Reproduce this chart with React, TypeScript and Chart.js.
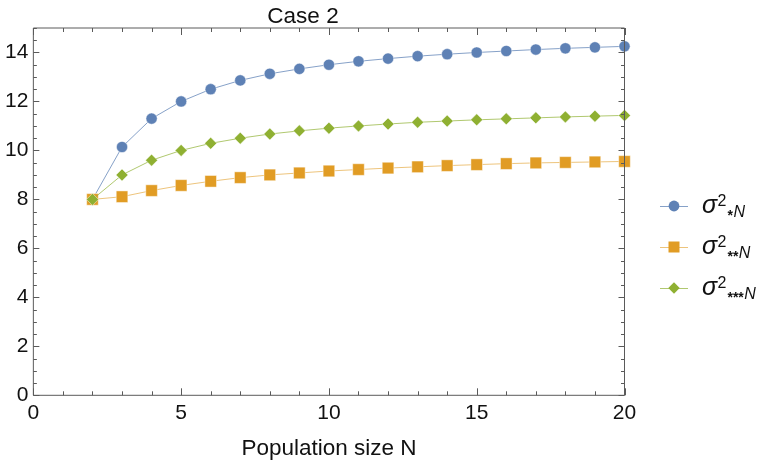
import React, { useEffect, useRef } from "react";
import { Chart, registerables } from "chart.js";

Chart.register(...registerables);

// ---- data ----
const N_VALUES = [2, 3, 4, 5, 6, 7, 8, 9, 10, 11, 12, 13, 14, 15, 16, 17, 18, 19, 20];
const SIGMA_1STAR = [8.0, 10.14, 11.3, 12.0, 12.5, 12.86, 13.13, 13.33, 13.5, 13.64, 13.75, 13.85, 13.93, 14.0, 14.06, 14.12, 14.17, 14.21, 14.25];
const SIGMA_2STAR = [8.0, 8.11, 8.36, 8.57, 8.74, 8.89, 9.0, 9.08, 9.16, 9.22, 9.28, 9.33, 9.38, 9.42, 9.46, 9.49, 9.51, 9.53, 9.55];
const SIGMA_3STAR = [8.0, 9.0, 9.6, 10.0, 10.29, 10.5, 10.67, 10.8, 10.91, 11.0, 11.08, 11.15, 11.2, 11.25, 11.29, 11.33, 11.37, 11.4, 11.43];
const SERIES_STARS = ["*", "**", "***"];
const X_TICKS = [0, 5, 10, 15, 20];
const Y_TICKS = [0, 2, 4, 6, 8, 10, 12, 14];
const X_RANGE = [0, 20];
const Y_RANGE = [0, 15];
const TITLE = "Case 2";
const X_TITLE = "Population size N";

const BLUE = "#5E81B5";
const ORANGE = "#E19C24";
const GREEN = "#8FB032";
const BLUE_LINE = "rgba(94,129,181,0.75)";
const ORANGE_LINE = "rgba(225,156,36,0.6)";
const GREEN_LINE = "rgba(143,176,50,0.7)";
const FRAME = "#5a5a5a";
const TEXT = "#111111";
const FONT = '"Liberation Sans", Arial, sans-serif';

const framePlugin = {
  id: "frameTicks",
  afterDraw(chart: any) {
    const { ctx, chartArea } = chart;
    const xs = chart.scales.x;
    const ys = chart.scales.y;
    const { left, right, top, bottom } = chartArea;
    ctx.save();
    ctx.strokeStyle = FRAME;
    ctx.lineWidth = 1;
    ctx.beginPath();
    ctx.rect(left, top, right - left, bottom - top);
    ctx.stroke();
    ctx.beginPath();
    for (let v = X_RANGE[0]; v <= X_RANGE[1] + 1e-9; v += 1) {
      const major = X_TICKS.includes(v);
      const len = major ? 7 : 4;
      const px = Math.round(xs.getPixelForValue(v)) + 0.5;
      ctx.moveTo(px, bottom);
      ctx.lineTo(px, bottom - len);
      ctx.moveTo(px, top);
      ctx.lineTo(px, top + len);
    }
    for (let v = Y_RANGE[0]; v <= Y_RANGE[1] + 1e-9; v += 0.5) {
      const major = Y_TICKS.includes(v);
      const len = major ? 6 : 3.5;
      const py = Math.round(ys.getPixelForValue(v)) + 0.5;
      ctx.moveTo(left, py);
      ctx.lineTo(left + len, py);
      ctx.moveTo(right, py);
      ctx.lineTo(right - len, py);
    }
    ctx.stroke();

    // title
    ctx.fillStyle = TEXT;
    ctx.font = `22.5px ${FONT}`;
    ctx.textAlign = "center";
    ctx.textBaseline = "alphabetic";
    ctx.fillText(TITLE, 303, 23);

    // legend
    const colors = [BLUE, ORANGE, GREEN];
    const lineColors = [BLUE_LINE, ORANGE_LINE, GREEN_LINE];
    const ys0 = [206, 247, 288];
    for (let i = 0; i < 3; i++) {
      const y = ys0[i];
      ctx.strokeStyle = lineColors[i];
      ctx.lineWidth = 1;
      ctx.beginPath();
      ctx.moveTo(660, y + 0.5);
      ctx.lineTo(688, y + 0.5);
      ctx.stroke();
      ctx.fillStyle = colors[i];
      ctx.beginPath();
      if (i === 0) {
        ctx.arc(674, y, 5.4, 0, Math.PI * 2);
      } else if (i === 1) {
        ctx.rect(674 - 5.5, y - 5.5, 11, 11);
      } else {
        ctx.moveTo(674 - 5.7, y);
        ctx.lineTo(674, y - 5.7);
        ctx.lineTo(674 + 5.7, y);
        ctx.lineTo(674, y + 5.7);
        ctx.closePath();
      }
      ctx.fill();

      ctx.fillStyle = TEXT;
      ctx.textAlign = "left";
      let x = 702;
      ctx.font = `italic 25px ${FONT}`;
      ctx.fillText("σ", x, y + 7);
      x += ctx.measureText("σ").width + 0.5;
      ctx.font = `16px ${FONT}`;
      ctx.fillText("2", x, y);
      x += ctx.measureText("2").width + 1;
      ctx.font = `bold 14px ${FONT}`;
      ctx.fillText(SERIES_STARS[i], x, y + 14);
      x += ctx.measureText(SERIES_STARS[i]).width + 0.5;
      ctx.font = `italic 16px ${FONT}`;
      ctx.fillText("N", x, y + 11);
    }
    ctx.restore();
  },
};

function series(values: number[]) {
  return N_VALUES.map((n, i) => ({ x: n, y: values[i] }));
}

export default function App() {
  const ref = useRef<HTMLCanvasElement>(null);
  useEffect(() => {
    const canvas = ref.current;
    if (!canvas) return;
    const common = {
      borderWidth: 1,
      pointBorderWidth: 1,
      pointBorderColor: "rgba(255,255,255,0.45)",
      clip: false,
      tension: 0,
      fill: false,
    };
    const chart = new Chart(canvas, {
      type: "line",
      data: {
        datasets: [
          {
            ...common,
            label: "σ2*N",
            data: series(SIGMA_1STAR),
            borderColor: BLUE_LINE,
            backgroundColor: BLUE,
            pointBackgroundColor: BLUE,
            pointStyle: "circle",
            pointRadius: 5.6,
            order: 3,
          },
          {
            ...common,
            label: "σ2**N",
            data: series(SIGMA_2STAR),
            borderColor: ORANGE_LINE,
            backgroundColor: ORANGE,
            pointBackgroundColor: ORANGE,
            pointStyle: "rect",
            pointRadius: 8.2,
            order: 2,
          },
          {
            ...common,
            label: "σ2***N",
            data: series(SIGMA_3STAR),
            borderColor: GREEN_LINE,
            backgroundColor: GREEN,
            pointBackgroundColor: GREEN,
            pointStyle: "rectRot",
            pointRadius: 6,
            order: 1,
          },
        ],
      } as any,
      options: {
        animation: false,
        responsive: false,
        events: [],
        layout: { padding: { left: 0, right: 138.5, top: 28, bottom: 1 } },
        plugins: {
          legend: { display: false },
          title: { display: false },
          tooltip: { enabled: false },
        },
        scales: {
          x: {
            type: "linear",
            min: X_RANGE[0],
            max: X_RANGE[1],
            afterBuildTicks: (s: any) => {
              s.ticks = X_TICKS.map((v) => ({ value: v }));
            },
            grid: { display: false, drawTicks: false },
            border: { display: false },
            ticks: {
              font: { family: FONT, size: 21 },
              color: TEXT,
              padding: 5,
              maxRotation: 0,
              autoSkip: false,
            },
            title: {
              display: true,
              text: X_TITLE,
              font: { family: FONT, size: 22.5 },
              color: TEXT,
              padding: { top: 4.5, bottom: 0 },
            },
          },
          y: {
            type: "linear",
            min: Y_RANGE[0],
            max: Y_RANGE[1],
            afterBuildTicks: (s: any) => {
              s.ticks = Y_TICKS.map((v) => ({ value: v }));
            },
            grid: { display: false, drawTicks: false },
            border: { display: false },
            ticks: {
              font: { family: FONT, size: 21 },
              color: TEXT,
              padding: 5,
              autoSkip: false,
            },
          },
        },
      } as any,
      plugins: [framePlugin],
    });
    return () => chart.destroy();
  }, []);
  return (
    <div style={{ position: "fixed", left: 0, top: 0, width: 763, height: 463, background: "#fff" }}>
      <canvas ref={ref} width={763} height={463} style={{ display: "block", width: 763, height: 463 }} />
    </div>
  );
}
